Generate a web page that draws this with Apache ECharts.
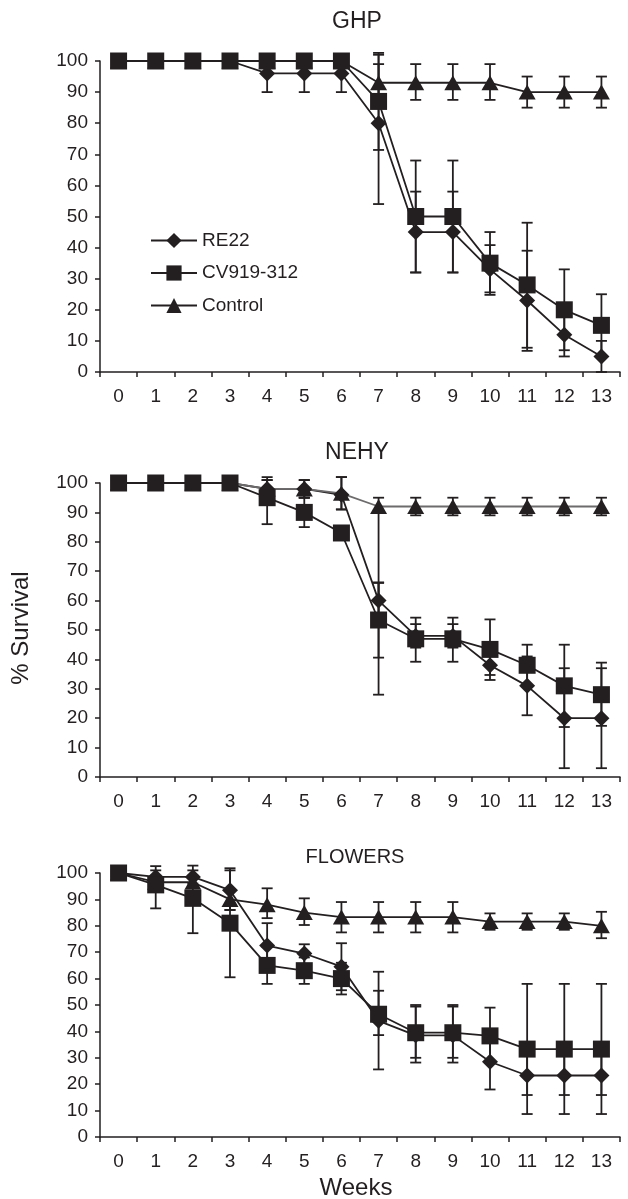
<!DOCTYPE html>
<html>
<head>
<meta charset="utf-8">
<script src="https://cdn.jsdelivr.net/npm/echarts@6/dist/echarts.min.js"></script>
<style>
  html, body { margin: 0; padding: 0; background: #fff; }
  #chart { width: 628px; height: 1199px; }
</style>
</head>
<body>
<div id="chart"></div>
<script>
// survival curves, three panels

var weeks = ['0','1','2','3','4','5','6','7','8','9','10','11','12','13'];
var panelTitles = ['GHP', 'NEHY', 'FLOWERS'];
var seriesNames = ['RE22', 'CV919-312', 'Control'];

// GHP
var ghpRE22    = [100,100,100,100,96,96,96,80,45,45,33,23,12,5];
var ghpCV      = [100,100,100,100,100,100,100,87,50,50,35,28,20,15];
var ghpControl = [100,100,100,100,100,100,100,93,93,93,93,90,90,90];
var ghpRE22Err    = [null,null,null,null,[90,102],[90,102],[90,102],[54,102],[32,58],[32,58],[25.6,40.8],[6.8,39],[5,19],[0,10]];
var ghpCVErr      = [null,null,null,null,null,null,null,[71.4,102.6],[32,68],[32,68],[24.8,45],[7.8,48],[7,33],[5,25]];
var ghpControlErr = [null,null,null,null,null,null,null,[87.5,99],[87.5,99],[87.5,99],[87.5,99],[85,95],[85,95],[85,95]];

// NEHY
var nehyRE22    = [100,100,100,100,98,98,96,60,48,48,38,31,20,20];
var nehyCV      = [100,100,100,100,95,90,83,53.4,47,47,43.4,38,31,28];
var nehyControl = [100,100,100,100,98,98,96.5,92,92,92,92,92,92,92];
var nehyRE22Err    = [null,null,null,null,[95,101],[95,101],[91,102],[54,66],[44,52],[44,52],[34.7,42],[21,41],[3,37],[3,37]];
var nehyCVErr      = [null,null,null,null,[86,102],[85,95],null,[40.6,66.2],[39.2,54.2],[39.2,54.2],[33,53.6],[31,45],[17,45],[17.4,38.9]];
var nehyControlErr = [null,null,null,null,[95,101],[95,101],[91,102],[28,95],[89,95],[89,95],[89,95],[89,95],[89,95],[89,95]];

// FLOWERS
var flowRE22    = [100,98.5,98.5,93.5,72.5,69.5,64.5,44,38.5,38.5,28.5,23.3,23.3,23.3];
var flowCV      = [100,95.5,90.4,81,65,63,60,46.5,39.5,39.5,38.3,33.3,33.3,33.3];
var flowControl = [100,96.5,96.5,90,88,85,83.3,83.3,83.3,83.3,81.6,81.6,81.6,80];
var flowRE22Err    = [null,[96,101],[96,101],[86,101],[63,81],[65.5,73],[55.6,73.4],[38.6,55.4],[28.2,49.4],[28.2,49.4],[18,39],[15.9,30.7],[15.9,30.7],[15.9,30.7]];
var flowCVErr      = [null,[86.6,102.6],[77.2,102.8],[60.5,101.8],[58,72],[58,68],[54,66],[25.6,62.6],[30,50],[30,50],[28,49],[8.7,58],[8.7,58],[8.7,58]];
var flowControlErr = [null,[95,99],[95,99],[86,94],[82.9,94.2],[80.3,90.4],[77.5,89],[77.5,89],[77.5,89],[77.5,89],[78.5,84.7],[78.5,84.7],[78.5,84.7],[75.3,85.3]];

var panels = [
    { values: [ghpRE22, ghpCV, ghpControl], errs: [ghpRE22Err, ghpCVErr, ghpControlErr] },
    { values: [nehyRE22, nehyCV, nehyControl], errs: [nehyRE22Err, nehyCVErr, nehyControlErr] },
    { values: [flowRE22, flowCV, flowControl], errs: [flowRE22Err, flowCVErr, flowControlErr] }
];

var ink = '#231f20';
var font = '"Liberation Sans", Arial, sans-serif';
var gridTops = [61, 483, 873];
var gridHeights = [311, 294, 264];
var symbols = ['diamond', 'rect', 'triangle'];
var symbolSizes = [[16, 16], [17, 17], [17, 15]];

window.onload = function () {
    var myChart = echarts.init(document.getElementById('chart'), null, { renderer: 'canvas' });

    var grids = [], xAxes = [], yAxes = [], series = [];

    function errBars(p, s) {
        var out = [];
        panels[p].errs[s].forEach(function (e, i) {
            if (e) out.push([i, e[0], e[1]]);
        });
        return out;
    }

    function renderErr(params, api) {
        var x = api.value(0);
        var lo = api.coord([x, api.value(1)]);
        var hi = api.coord([x, api.value(2)]);
        var w = 5.5;
        var st = { stroke: ink, lineWidth: 1.8 };
        return {
            type: 'group',
            children: [
                { type: 'line', shape: { x1: lo[0], y1: lo[1], x2: hi[0], y2: hi[1] }, style: st },
                { type: 'line', shape: { x1: lo[0] - w, y1: lo[1], x2: lo[0] + w, y2: lo[1] }, style: st },
                { type: 'line', shape: { x1: hi[0] - w, y1: hi[1], x2: hi[0] + w, y2: hi[1] }, style: st }
            ]
        };
    }

    for (var p = 0; p < 3; p++) {
        grids.push({ left: 100, width: 520, top: gridTops[p], height: gridHeights[p] });
        xAxes.push({
            type: 'category',
            gridIndex: p,
            data: weeks,
            boundaryGap: true,
            axisLine: { lineStyle: { color: ink, width: 1.5 } },
            axisTick: { show: true, interval: 0, length: 5, lineStyle: { color: ink, width: 1.5 } },
            axisLabel: { interval: 0, color: ink, fontSize: 19, fontFamily: font, margin: 15 },
            splitLine: { show: false }
        });
        yAxes.push({
            type: 'value',
            gridIndex: p,
            min: 0, max: 100, interval: 10,
            axisLine: { show: true, lineStyle: { color: ink, width: 1.5 } },
            axisTick: { show: true, length: 5, lineStyle: { color: ink, width: 1.5 } },
            axisLabel: { color: ink, fontSize: 19, fontFamily: font, margin: 12 },
            splitLine: { show: false }
        });
        // error bars, unnamed so the legend ignores them
        for (var s = 0; s < 3; s++) {
            series.push({
                type: 'custom',
                xAxisIndex: p, yAxisIndex: p,
                renderItem: renderErr,
                data: errBars(p, s),
                z: 1,
                silent: true
            });
        }
        // diamonds, then triangles, then squares on top
        [0, 2, 1].forEach(function (s) {
            var lineColor = (p === 1 && s === 2) ? '#6d6b6c' : ink;
            series.push({
                type: 'line',
                name: seriesNames[s],
                xAxisIndex: p, yAxisIndex: p,
                data: panels[p].values[s],
                symbol: symbols[s],
                symbolSize: symbolSizes[s],
                showAllSymbol: true,
                lineStyle: { color: lineColor, width: 1.8 },
                itemStyle: { color: ink, borderWidth: 0 },
                z: 2,
                emphasis: { disabled: true }
            });
        });
    }

    var option = {
        animation: false,
        backgroundColor: '#fff',
        grid: grids,
        xAxis: xAxes,
        yAxis: yAxes,
        legend: {
            data: seriesNames,
            orient: 'vertical',
            left: 145,
            top: 226,
            itemWidth: 46,
            itemHeight: 19,
            itemGap: 13.5,
            textStyle: { color: ink, fontSize: 19, fontFamily: font },
            selectedMode: false
        },
        graphic: [
            { type: 'text', x: 357, y: 22, style: { text: panelTitles[0], fill: ink, font: '23px ' + font, align: 'center', verticalAlign: 'middle' } },
            { type: 'text', x: 357, y: 453, style: { text: panelTitles[1], fill: ink, font: '23px ' + font, align: 'center', verticalAlign: 'middle' } },
            { type: 'text', x: 355, y: 857, style: { text: panelTitles[2], fill: ink, font: '20px ' + font, align: 'center', verticalAlign: 'middle' } },
            { type: 'text', x: 21, y: 628, rotation: Math.PI / 2, style: { text: '% Survival', fill: ink, font: '24px ' + font, align: 'center', verticalAlign: 'middle' } },
            { type: 'text', x: 356, y: 1188, style: { text: 'Weeks', fill: ink, font: '24px ' + font, align: 'center', verticalAlign: 'middle' } }
        ],
        series: series
    };
    myChart.setOption(option, true);
};
</script>
</body>
</html>
